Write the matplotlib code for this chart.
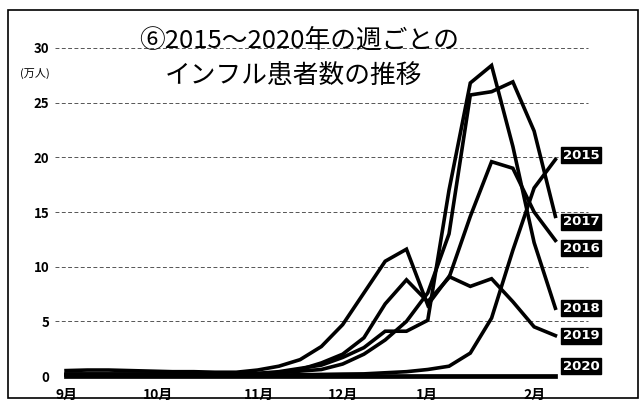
import matplotlib
matplotlib.use('Agg')
import matplotlib.pyplot as plt
from matplotlib.patches import Rectangle

plt.rcParams['font.family'] = ['Noto Sans CJK JP', 'DejaVu Sans']

# weekly points, week 36 (early Sept) .. week 7 (mid Feb)
weeks = list(range(24))

s2015 = [0.1, 0.1, 0.1, 0.1, 0.1, 0.1, 0.1, 0.1, 0.1, 0.1, 0.1, 0.12,
         0.15, 0.18, 0.2, 0.3, 0.4, 0.6, 0.9, 2.1, 5.3, 11.5, 17.2, 19.8]
s2016 = [0.2, 0.2, 0.2, 0.2, 0.2, 0.15, 0.15, 0.15, 0.15, 0.2, 0.3, 0.6,
         1.2, 2.0, 3.5, 6.6, 8.8, 6.8, 9.0, 14.6, 19.6, 19.0, 15.0, 12.4]
s2017 = [0.1, 0.1, 0.1, 0.1, 0.1, 0.1, 0.1, 0.1, 0.15, 0.2, 0.3, 0.45,
         0.6, 1.1, 2.0, 3.3, 5.0, 7.6, 13.0, 25.7, 26.0, 26.9, 22.4, 14.6]
s2018 = [0.15, 0.15, 0.15, 0.15, 0.15, 0.15, 0.15, 0.15, 0.2, 0.25, 0.4, 0.7,
         1.0, 1.7, 2.6, 4.1, 4.1, 5.1, 17.0, 26.8, 28.4, 21.0, 12.2, 6.2]
s2019 = [0.5, 0.55, 0.55, 0.5, 0.45, 0.4, 0.4, 0.35, 0.35, 0.55, 0.9, 1.5,
         2.7, 4.7, 7.6, 10.5, 11.6, 6.5, 9.1, 8.2, 8.9, 6.8, 4.5, 3.7]
s2020 = [0.03, 0.03, 0.03, 0.03, 0.03, 0.03, 0.03, 0.03, 0.03, 0.03, 0.03, 0.03,
         0.03, 0.03, 0.03, 0.03, 0.03, 0.03, 0.03, 0.03, 0.03, 0.03, 0.03, 0.03]

series = {'2015': s2015, '2016': s2016, '2017': s2017,
          '2018': s2018, '2019': s2019, '2020': s2020}

month_labels = ['9月', '10月', '11月', '12月', '1月', '2月']
month_pos = [0, 4.32, 9.07, 13.02, 16.96, 22.0]
yticks = [0, 5, 10, 15, 20, 25, 30]

fig = plt.figure(figsize=(6.41, 4.09), dpi=100)
ax = fig.add_axes([0.0858, 0.0645, 0.858, 0.845])

for y in yticks[1:]:
    ax.axhline(y, xmax=0.97, color='#555555', lw=0.7, ls=(0, (4, 2.5)), zorder=1)

for name, vals in series.items():
    lw = 3.4 if name == '2020' else 2.6
    ax.plot(weeks, vals, color='black', lw=lw, solid_joinstyle='miter', zorder=3)

# year tags at the right end
tag_y = {'2015': 20.2, '2017': 14.1, '2016': 11.7, '2018': 6.2, '2019': 3.7, '2020': 0.9}
for name, ty in tag_y.items():
    ax.text(24.2, ty, name, color='white', fontsize=9.5, fontweight='bold',
            ha='center', va='center', family=['DejaVu Sans'],
            bbox=dict(facecolor='black', edgecolor='black', pad=1.0), zorder=5)

ax.set_xlim(-0.52, 25.33)
ax.set_ylim(-0.6, 31)
ax.set_xticks(month_pos)
ax.set_xticklabels(month_labels, fontsize=10, fontweight='bold')
ax.set_yticks(yticks)
ax.set_yticklabels([str(v) for v in yticks], fontsize=9.5, fontweight='bold')
ax.tick_params(length=0, pad=4)
for sp in ax.spines.values():
    sp.set_visible(False)

fig.text(20 / 641, 1 - 73 / 409, '(万人)', fontsize=8, va='center', ha='left')
fig.text(299 / 641, 1 - 41 / 409, '⑥2015～2020年の週ごとの', fontsize=18.5,
         ha='center', va='center')
fig.text(294 / 641, 1 - 76 / 409, 'インフル患者数の推移', fontsize=18.5,
         ha='center', va='center')

# outer frame of the clipping
fig.patches.append(Rectangle((8 / 641, 11 / 409), 630 / 641, 388 / 409,
                             transform=fig.transFigure, fill=False,
                             edgecolor='black', lw=1.2))

fig.savefig('out.png', dpi=100)
